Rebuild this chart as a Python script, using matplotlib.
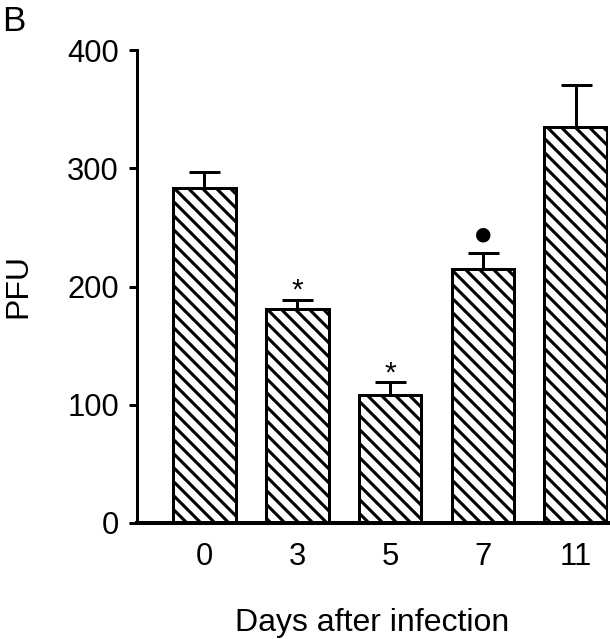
import numpy as np
import matplotlib
matplotlib.use("Agg")
import matplotlib.pyplot as plt

DPI = 84  # chosen so the hatch spacing matches the original (~7 px)
W, H = 610, 639


def pt(px):
    # pixel sizes -> points at this dpi
    return px * 72 / DPI


plt.rcParams["font.family"] = ["Liberation Sans", "DejaVu Sans"]
plt.rcParams["hatch.linewidth"] = pt(3.1)

days = ["0", "3", "5", "7", "11"]
pfu = [283, 181, 108, 215, 335]
pfu_err = [14, 8, 11, 13, 35]
marks = ["", "*", "*", "\u25cf", ""]
yticks = [0, 100, 200, 300, 400]

fig = plt.figure(figsize=(W / DPI, H / DPI), dpi=DPI)
ax = fig.add_axes([137 / W, 1 - 523 / H, 471 / W, 473 / H])

x = np.arange(len(days))
ax.errorbar(x, pfu, yerr=[np.zeros(len(pfu)), pfu_err], fmt="none",
            ecolor="black", elinewidth=pt(3), capsize=pt(15.5),
            capthick=pt(3), zorder=1)
ax.bar(x, pfu, width=0.674, color="white", edgecolor="black",
       linewidth=pt(3), hatch="\\\\", zorder=2)

for xi, m, v, e in zip(x, marks, pfu, pfu_err):
    if m == "*":
        ax.annotate(m, (xi, v + e), xytext=(0, pt(-5)), textcoords="offset points",
                    ha="center", va="bottom", fontsize=pt(30))
    elif m:
        ax.annotate(m, (xi, v + e), xytext=(0, pt(19.5)), textcoords="offset points",
                    ha="center", va="center", fontsize=pt(19),
                    family=["DejaVu Sans"])

ax.set_xlim(-0.727, 4.348)
ax.set_ylim(0, 400)
ax.set_xticks(x)
ax.set_xticklabels(days)
ax.set_yticks(yticks)
ax.tick_params(axis="x", length=0, pad=pt(19), labelsize=pt(31))
ax.tick_params(axis="y", length=pt(8), width=pt(3), pad=pt(10), labelsize=pt(31))

for s in ["top", "right"]:
    ax.spines[s].set_visible(False)
ax.spines["left"].set_linewidth(pt(3))
ax.spines["bottom"].set_linewidth(pt(4))

ax.set_xlabel("Days after infection", fontsize=pt(32), labelpad=pt(36))
ax.set_ylabel("PFU", fontsize=pt(32), labelpad=pt(34))
fig.text(2 / W, 1 - 5 / H, "B", fontsize=pt(35), ha="left", va="top")

fig.savefig("out.png", dpi=DPI)
